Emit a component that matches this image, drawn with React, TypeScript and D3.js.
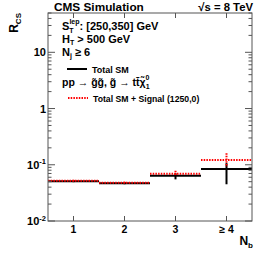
import * as d3 from 'd3'

// N_b bins
const bins = ['1', '2', '3', '≥ 4']

// Total SM
const smValues = [0.051, 0.047, 0.064, 0.084]
const smErrUp = [0.002, 0.002, 0.007, 0.023]
const smErrDown = [0.002, 0.002, 0.009, 0.039]

// Total SM + Signal (1250,0)
const sigValues = [0.052, 0.048, 0.069, 0.121]
const sigErrUp = [0.002, 0.002, 0.009, 0.04]
const sigErrDown = [0.002, 0.002, 0.004, 0.03]

const yMajor = [0.01, 0.1, 1, 10]

const W = 266
const H = 255
const margin = { top: 13, right: 14, bottom: 34, left: 48 }
const FONT = '"Liberation Sans", Arial, Helvetica, sans-serif'

export default function App() {
  const x = d3.scaleBand<string>().domain(bins).range([margin.left, W - margin.right]).padding(0)
  const y = d3.scaleLog().domain([0.01, 50]).range([H - margin.bottom, margin.top])
  const x0 = margin.left
  const x1 = W - margin.right
  const y0 = H - margin.bottom
  const y1 = margin.top
  const bw = x.bandwidth()

  // minor ticks on log axis
  const minor: number[] = []
  for (const d of yMajor) {
    for (let k = 2; k <= 9; k++) {
      const v = d * k
      if (v <= 50) minor.push(v)
    }
  }

  const superExp = (v: number) => Math.round(Math.log10(v))

  const series = (
    vals: number[],
    up: number[],
    down: number[],
    color: string,
    dash?: string
  ) =>
    vals.map((v, i) => {
      const cx = x(bins[i])! + bw / 2
      return (
        <g key={i}>
          <line
            x1={x(bins[i])!}
            x2={x(bins[i])! + bw}
            y1={y(v)}
            y2={y(v)}
            stroke={color}
            strokeWidth={2}
            strokeDasharray={dash}
          />
          <line
            x1={cx}
            x2={cx}
            y1={y(v + up[i])}
            y2={y(v - down[i])}
            stroke={color}
            strokeWidth={2}
            strokeDasharray={dash}
          />
        </g>
      )
    })

  return (
    <div style={{ position: 'absolute', left: 0, top: 0 }}>
      <svg width={W} height={H} style={{ display: 'block', background: '#fff' }} fontFamily={FONT} fontWeight="bold">
        {/* data */}
        {series(smValues, smErrUp, smErrDown, '#000')}
        {series(sigValues, sigErrUp, sigErrDown, '#f00', '1.5,1.2')}

        {/* frame */}
        <rect x={x0} y={y1} width={x1 - x0} height={y0 - y1} fill="none" stroke="#555" strokeWidth={1} />

        {/* x ticks (bottom and top) */}
        {bins.map((b) => {
          const cx = x(b)! + bw / 2
          return (
            <g key={b}>
              <line x1={cx} x2={cx} y1={y0} y2={y0 - 5} stroke="#555" />
              <line x1={cx} x2={cx} y1={y1} y2={y1 + 5} stroke="#555" />
              <text x={cx} y={y0 + 12} textAnchor="middle" fontSize={10.5}>
                {b}
              </text>
            </g>
          )
        })}

        {/* y ticks */}
        {yMajor.map((v) => (
          <g key={v}>
            <line x1={x0} x2={x0 + 7} y1={y(v)} y2={y(v)} stroke="#555" />
            <line x1={x1} x2={x1 - 7} y1={y(v)} y2={y(v)} stroke="#555" />
          </g>
        ))}
        {minor.map((v) => (
          <g key={'m' + v}>
            <line x1={x0} x2={x0 + 3.5} y1={y(v)} y2={y(v)} stroke="#555" />
            <line x1={x1} x2={x1 - 3.5} y1={y(v)} y2={y(v)} stroke="#555" />
          </g>
        ))}
        {yMajor.map((v) => {
          const e = superExp(v)
          return (
            <text key={'l' + v} x={x0 - 2} y={y(v) + 4} textAnchor="end" fontSize={11}>
              {e >= 0 ? (
                String(v)
              ) : (
                <>
                  10<tspan fontSize={7.5} dy={-4.5}>{String(e)}</tspan>
                </>
              )}
            </text>
          )
        })}

        {/* axis titles */}
        <text transform={`translate(18,${y1}) rotate(-90)`} textAnchor="end" fontSize={12}>
          R<tspan fontSize={8} dy={3}>CS</tspan>
        </text>
        <text x={253} y={245} textAnchor="end" fontSize={12}>
          N<tspan fontSize={8} dy={3}>b</tspan>
        </text>

        {/* header */}
        <text x={54} y={10.5} fontSize={11.8}>CMS  Simulation</text>
        <text x={253} y={10.5} textAnchor="end" fontSize={11.3}>√s = 8 TeV</text>

        {/* selection text */}
        <text x={62} y={30} fontSize={11}>
          S<tspan fontSize={7} dy={2.5}>T</tspan>
          <tspan fontSize={7} dx={-4.2} dy={-8.5}>lep</tspan>
          <tspan dy={6}>: [250,350] GeV</tspan>
        </text>
        <text x={62} y={42.5} fontSize={11}>
          H<tspan fontSize={7} dy={2.5}>T</tspan>
          <tspan dy={-2.5}> &gt; 500 GeV</tspan>
        </text>
        <text x={62} y={55.5} fontSize={11}>
          N<tspan fontSize={7} dy={2.5}>j</tspan>
          <tspan dy={-2.5}> ≥ 6</tspan>
        </text>

        {/* legend */}
        <line x1={67} x2={87} y1={69} y2={69} stroke="#000" strokeWidth={2} />
        <text x={92} y={73} fontSize={9}>Total SM</text>
        <text x={62} y={86} fontSize={10.5}>
          pp → g̃g̃,  g̃ → tt̄χ̃<tspan fontSize={7} dy={3}>1</tspan>
          <tspan fontSize={7} dx={-4} dy={-9}>0</tspan>
        </text>
        <line x1={68} x2={88} y1={98} y2={98} stroke="#f00" strokeWidth={2} strokeDasharray="1.5,1.2" />
        <text x={93} y={102} fontSize={8.7}>Total SM + Signal (1250,0)</text>
      </svg>
    </div>
  )
}
